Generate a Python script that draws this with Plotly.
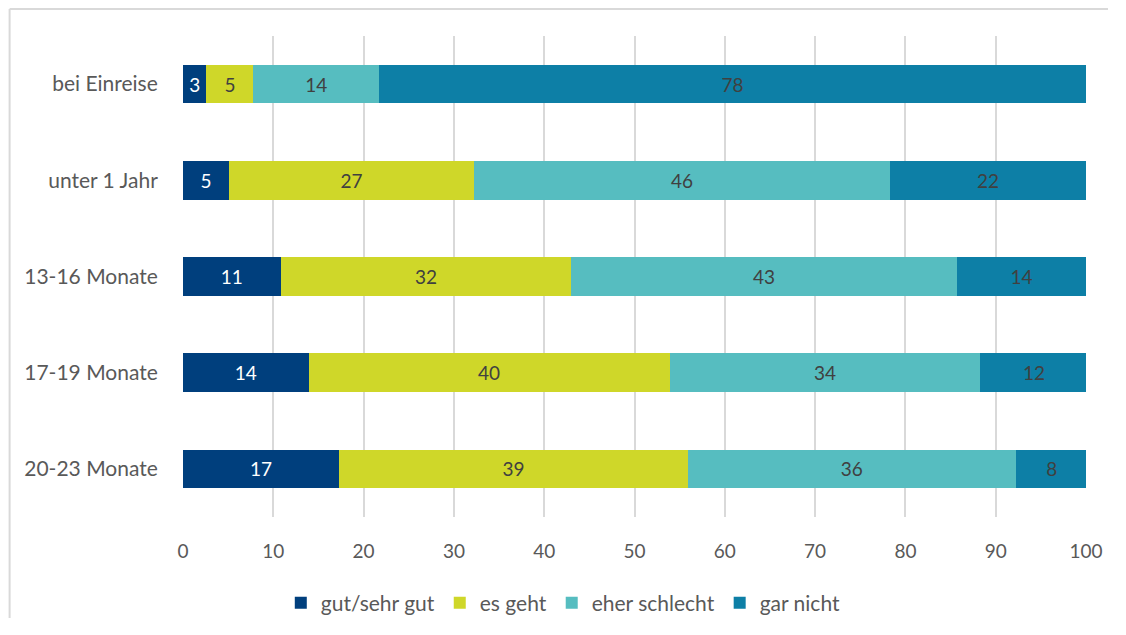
import plotly.graph_objects as go

categories = ["bei Einreise", "unter 1 Jahr", "13-16 Monate", "17-19 Monate", "20-23 Monate"]
gut = [2.6, 5.1, 10.8, 13.9, 17.3]
es_geht = [5.2, 27.1, 32.2, 40.0, 38.6]
eher_schlecht = [13.9, 46.1, 42.7, 34.4, 36.3]
gar_nicht = [78.3, 21.7, 14.3, 11.9, 8.0]
labels_gut = ["3", "5", "11", "14", "17"]
labels_es_geht = ["5", "27", "32", "40", "39"]
labels_eher = ["14", "46", "43", "34", "36"]
labels_gar = ["78", "22", "14", "12", "8"]

series = [
    ("gut/sehr gut", gut, labels_gut, "#003f7d", "#ffffff"),
    ("es geht", es_geht, labels_es_geht, "#cfd729", "#404040"),
    ("eher schlecht", eher_schlecht, labels_eher, "#56bdc0", "#404040"),
    ("gar nicht", gar_nicht, labels_gar, "#0d7fa6", "#404040"),
]

FONT = "Lato"
fig = go.Figure()
for name, vals, labs, col, tcol in series:
    fig.add_trace(go.Bar(
        y=categories, x=vals, name=name, orientation="h",
        marker=dict(color=col, line=dict(width=0)),
        text=labs, textposition="inside", insidetextanchor="middle",
        textfont=dict(color=tcol, size=19, family=FONT),
        textangle=0, constraintext="none",
    ))

W, H = 1100, 610
L, R, T, B = 174.5, 22, 28, 101
pw = W - L - R
ph = H - T - B

fig.update_layout(
    width=W, height=H,
    barmode="stack", bargap=0.6,
    plot_bgcolor="white", paper_bgcolor="white",
    margin=dict(l=L, r=R, t=T, b=B),
    font=dict(family=FONT, color="#595959", size=19),
    xaxis=dict(range=[0, 100], dtick=10, showgrid=True, gridcolor="#d9d9d9",
               gridwidth=2, zeroline=False, showline=False, automargin=False,
               tickfont=dict(size=19, color="#595959"),
               ticks="outside", ticklen=17, tickcolor="rgba(0,0,0,0)"),
    yaxis=dict(autorange="reversed", showgrid=False, zeroline=False, automargin=False,
               tickfont=dict(size=21, color="#595959"),
               ticks="outside", ticklen=20, tickcolor="rgba(0,0,0,0)"),
    legend=dict(orientation="h", xref="paper", x=(563 - 8 - L) / pw, xanchor="center",
                yref="container", y=1 - 595 / H, yanchor="middle",
                font=dict(size=21, color="#595959"), traceorder="normal",
                itemwidth=30),
    showlegend=True,
)

# outer border (left and top lines)
fig.add_shape(type="line", xref="paper", yref="paper",
              x0=(1 - L) / pw, x1=(1 - L) / pw, y0=-(B) / ph, y1=1 + (T - 1) / ph,
              line=dict(color="#d9d9d9", width=2), layer="below")
fig.add_shape(type="line", xref="paper", yref="paper",
              x0=(1 - L) / pw, x1=1 + R / pw, y0=1 + (T - 1) / ph, y1=1 + (T - 1) / ph,
              line=dict(color="#d9d9d9", width=2), layer="below")

fig.write_html("out.html")
